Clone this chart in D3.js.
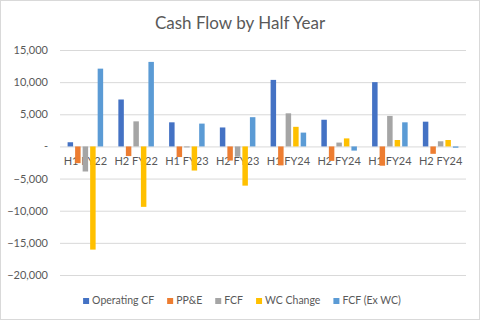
<!DOCTYPE html>
<html><head><meta charset="utf-8">
<script src="https://cdn.jsdelivr.net/npm/d3@7"></script>
<style>
html,body{margin:0;padding:0;background:#fff;}
svg{display:block;}
text{font-family:Lato,"Open Sans",sans-serif;fill:#595959;}
</style></head>
<body>
<svg id="chart" width="481" height="321"></svg>
<script>
const categories = ["H1 FY22","H2 FY22","H1 FY23","H2 FY23","H1 FY24","H2 FY24","H1 FY24","H2 FY24"];
const seriesNames = ["Operating CF","PP&E","FCF","WC Change","FCF (Ex WC)"];
const seriesColors = ["#4472C4","#ED7D31","#A5A5A5","#FFC000","#5B9BD5"];
const operatingCF = [650, 7300, 3750, 2950, 10350, 4150, 10000, 3850];
const ppe = [-2600, -1500, -1650, -2200, -2950, -2250, -3000, -1150];
const fcf = [-3900, 3900, -150, -1600, 5150, 600, 4750, 800];
const wcChange = [-16050, -9400, -3750, -6100, 3050, 1250, 1000, 1000];
const fcfExWC = [12100, 13150, 3550, 4550, 2150, -650, 3750, -200];
const yTicks = [15000, 10000, 5000, 0, -5000, -10000, -15000, -20000];
const title = "Cash Flow by Half Year";

const seriesValues = [operatingCF, ppe, fcf, wcChange, fcfExWC];

const svg = d3.select("#chart");
svg.append("rect").attr("x",0.5).attr("y",0.5).attr("width",479).attr("height",319)
  .attr("fill","#fff").attr("stroke","#d9d9d9").attr("stroke-width",1);

const pLeft = 60, pRight = 466, pTop = 50, pBottom = 275;
const y = d3.scaleLinear().domain([-20000, 15000]).range([pBottom, pTop]);
const x0 = d3.scaleBand().domain(d3.range(categories.length)).range([pLeft, pRight])
  .paddingInner(0.27).paddingOuter(0.135);
const x1 = d3.scaleBand().domain(d3.range(seriesNames.length)).range([0, x0.bandwidth()])
  .paddingInner(0.27).paddingOuter(0.1);

svg.append("text").attr("x", 240).attr("y", 29).attr("text-anchor","middle")
  .style("font-size","17px").text(title);

const fmt = v => v === 0 ? "-" : d3.format(",")(v);
const yAxis = d3.axisLeft(y).tickValues(yTicks).tickSize(-(pRight-pLeft)).tickFormat(fmt).tickPadding(12);
const ga = svg.append("g").attr("transform",`translate(${pLeft},0)`).call(yAxis);
ga.select(".domain").remove();
ga.selectAll(".tick line").attr("stroke","#d9d9d9").attr("stroke-width",1);
ga.selectAll(".tick text").style("font-size","11px").style("font-family","Lato,sans-serif").attr("fill","#595959");

const xAxis = d3.axisBottom(x0).tickFormat(i => categories[i]).tickSize(0).tickPadding(11);
const gx = svg.append("g").attr("transform",`translate(0,${y(0)})`).call(xAxis);
gx.select(".domain").remove();
gx.selectAll(".tick text").style("font-size","11px").style("font-family","Lato,sans-serif").attr("fill","#595959");

const groups = svg.append("g").selectAll("g").data(categories.map((c,i)=>i)).join("g")
  .attr("transform", i => `translate(${x0(i)},0)`);
groups.selectAll("rect").data(i => seriesValues.map((vals,s)=>({s, v: vals[i]}))).join("rect")
  .attr("x", d => x1(d.s)).attr("width", x1.bandwidth())
  .attr("y", d => y(Math.max(0,d.v))).attr("height", d => Math.abs(y(d.v)-y(0)))
  .attr("fill", d => seriesColors[d.s]);

const lg = svg.append("g");
const items = lg.selectAll("g").data(seriesNames).join("g");
items.append("rect").attr("width",6).attr("height",6).attr("y",-3).attr("fill",(d,i)=>seriesColors[i]);
items.append("text").attr("x",9).attr("y",0).attr("dy","0.32em").style("font-size","10.5px").text(d=>d);
let xpos = 0;
items.each(function(){
  const w = d3.select(this).select("text").node().getComputedTextLength();
  d3.select(this).attr("transform",`translate(${xpos},0)`);
  xpos += 9 + w + 13;
});
const total = xpos - 13;
lg.attr("transform",`translate(${242 - total/2},${301})`);
</script>
</body></html>
